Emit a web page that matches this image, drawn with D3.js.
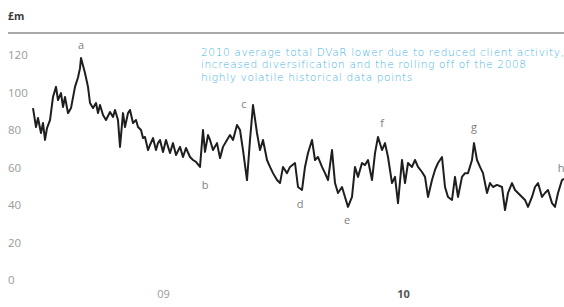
<!DOCTYPE html>
<html>
<head>
<meta charset="utf-8">
<script src="https://cdn.jsdelivr.net/npm/d3@7"></script>
<style>
  body { margin: 0; background: #fff; }
  svg { display: block; }
</style>
</head>
<body>
<div id="chart"></div>
<script>
// daily DVaR (£m), trading day index and value
var tradingDay = [0,3,5,8,10,12,14,17,20,23,25,28,30,32,35,38,42,45,47,48,52,55,57,60,63,65,67,70,73,77,80,82,85,87,90,92,95,97,100,103,105,108,110,112,115,117,120,123,125,127,130,133,137,140,143,147,150,153,157,160,163,167,170,172,175,177,180,184,187,190,194,197,200,204,207,210,214,217,220,224,227,230,234,237,240,244,247,250,254,257,262,265,269,272,275,279,282,285,289,292,295,299,302,305,309,312,315,319,322,325,329,332,335,339,342,345,349,352,355,359,362,365,369,372,375,379,382,385,389,392,395,399,402,405,409,412,415,419,422,425,429,432,435,439,441,444,447,450,454,457,460,464,469,472,475,479,482,485,489,492,495,499,502,505,509,512,515,519,522,525,529,531];
var dvar = [91.7,81.6,86.4,78.4,83.7,74.7,81,85.3,97.6,103,96,99.7,92.3,97.6,89,91.7,103,108,113,118.4,110.4,103,94.4,91.7,94.4,89,93.3,88,85.3,89.6,87,90.7,85.3,71,89,81.6,89,90.7,83.7,85.3,81.6,80,75.7,76.3,69.3,72,75.7,69.3,73,74.7,68.3,74.7,67.7,73,66.7,71,65.6,70.4,65.6,64,63,60.3,80,68.3,77.3,74.7,69.3,73,65,71,74.7,77.3,74.7,82.7,80,69.3,53.3,74.7,93.3,78.4,69.3,74.7,64,60.3,57,53.3,51.7,60.3,57,60.3,62.4,49.6,48,60.3,67.7,74.7,64,65.6,60.3,57,53.3,69.3,51.7,46.4,49.6,44.3,39,44.3,60.3,55,62.4,61.3,64,53.3,67.7,76.3,69.3,73,65.6,51.7,55,41,64,51.7,62.4,60.3,64,60.3,57.6,55,44.3,53.3,58.7,62.4,65.6,49.6,44.3,42.7,55,44.3,55,57,57,64,73,64,60.3,57,46.4,51.7,49.6,50.7,49.6,37.3,46.4,51.7,48,46.4,44.3,42.7,39,44.3,49.6,51.7,44.3,46.4,48,41,39,46.4,53.3,54];

var yTicks = [0, 20, 40, 60, 80, 100, 120];
var yearTickDays = [130, 370];
var yearTickLabels = ["09", "10"];

// event letters and the point they mark (index into dvar)
var eventLetters = ["a", "b", "c", "d", "e", "f", "g", "h"];
var eventIndex = [19, 61, 78, 92, 106, 115, 144, 171];
// label offsets from the marked point (layout only)
var eventOffset = [[0,-9],[5,22],[-9,3],[-2,18],[-1,17],[4,-10],[0,-12],[-3,-7]];

var noteLines = [
  "2010 average total DVaR lower due to reduced client activity,",
  "increased diversification and the rolling off of the 2008",
  "highly volatile historical data points"
];

var width = 564, height = 307;
var fontFamily = "'Open Sans', 'DejaVu Sans', sans-serif";
var greyText = "#9a9a9a";
var lineColor = "#1e1e1e";
var noteColor = "#46b3e6";

var svg = d3.select("#chart").append("svg")
  .attr("width", width)
  .attr("height", height);

var x = d3.scaleLinear()
  .domain([0, d3.max(tradingDay)])
  .range([33, 564]);

var y = d3.scaleLinear()
  .domain([0, 120])
  .range([280, 55]);

// unit + rule at top
svg.append("text")
  .attr("x", 8).attr("y", 20)
  .attr("font-family", fontFamily)
  .attr("font-size", 10.5)
  .attr("font-weight", "bold")
  .attr("fill", "#3a3a3a")
  .text("£m");

svg.append("line")
  .attr("x1", 8).attr("x2", 564)
  .attr("y1", 33).attr("y2", 33)
  .attr("stroke", "#8c8c8c")
  .attr("stroke-width", 1.5);

// y axis labels, no axis line
var yAxis = d3.axisLeft(y).tickValues(yTicks).tickSize(0).tickPadding(0);
var yg = svg.append("g").attr("transform", "translate(8,0)").call(yAxis);
yg.select(".domain").remove();
yg.selectAll("text")
  .attr("text-anchor", "start")
  .attr("font-family", fontFamily)
  .attr("font-size", 11.5)
  .attr("fill", greyText);

// year labels
var xAxis = d3.axisBottom(x).tickValues(yearTickDays)
  .tickFormat(function(d, i){ return yearTickLabels[i]; })
  .tickSize(0).tickPadding(0);
var xg = svg.append("g").attr("transform", "translate(0,290)").call(xAxis);
xg.select(".domain").remove();
xg.selectAll("text")
  .attr("font-family", fontFamily)
  .attr("font-size", 11)
  .attr("font-weight", function(d, i){ return i == 1 ? "bold" : "normal"; })
  .attr("fill", function(d, i){ return i == 1 ? "#555" : greyText; });

// the DVaR line
var line = d3.line()
  .x(function(d, i){ return x(tradingDay[i]); })
  .y(function(d){ return y(d); });

svg.append("path")
  .datum(dvar)
  .attr("d", line)
  .attr("fill", "none")
  .attr("stroke", lineColor)
  .attr("stroke-width", 2)
  .attr("stroke-linejoin", "round");

// event letters
svg.selectAll("text.event")
  .data(eventLetters)
  .enter().append("text")
  .attr("class", "event")
  .attr("x", function(d, i){ return x(tradingDay[eventIndex[i]]) + eventOffset[i][0]; })
  .attr("y", function(d, i){ return y(dvar[eventIndex[i]]) + eventOffset[i][1]; })
  .attr("text-anchor", "middle")
  .attr("font-family", fontFamily)
  .attr("font-size", 11)
  .attr("fill", "#808080")
  .text(function(d){ return d; });

// blue note
svg.append("g").selectAll("text")
  .data(noteLines)
  .enter().append("text")
  .attr("x", 201)
  .attr("y", function(d, i){ return 56 + i * 12.4; })
  .attr("font-family", "'DejaVu Sans', sans-serif")
  .attr("font-size", 10.5)
  .attr("font-weight", 200)
  .attr("letter-spacing", 0.65)
  .attr("fill", noteColor)
  .text(function(d){ return d; });
</script>
</body>
</html>
